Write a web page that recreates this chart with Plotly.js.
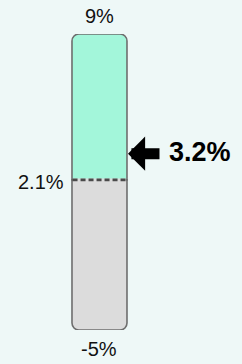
<!DOCTYPE html>
<html><head><meta charset="utf-8">
<script src="https://cdn.plot.ly/plotly-3.0.1.min.js"></script>
<style>html,body{margin:0;padding:0;background:#eef8f7;}</style>
</head><body>
<div id="chart" style="width:242px;height:364px;"></div>
<script>
const scaleMin = -5;
const scaleMax = 9;
const threshold = 2.1;
const currentValue = 3.2;
const labelMax = "9%";
const labelMin = "-5%";
const labelThreshold = "2.1%";
const labelValue = "3.2%";

// bars are drawn relative to the threshold so each one is rounded only at its outer end
const rel = v => v - threshold;
const outline = {color: '#6e6e6e', width: 1.6};
const traces = [
  {type: 'bar', x: [0], y: [rel(scaleMax)], width: [1],
   marker: {color: '#a3f6da', line: outline}, hoverinfo: 'skip'},
  {type: 'bar', x: [0], y: [rel(scaleMin)], width: [1],
   marker: {color: '#dcdcdc', line: outline}, hoverinfo: 'skip'}
];
const txt = {family: 'Liberation Sans, Arial, sans-serif', size: 20, color: '#111'};
const layout = {
  width: 242, height: 364,
  margin: {l: 0, r: 0, t: 34, b: 34},
  paper_bgcolor: '#eef8f7', plot_bgcolor: 'rgba(0,0,0,0)',
  barmode: 'relative', barcornerradius: 7, showlegend: false,
  xaxis: {range: [-1.809, 2.591], visible: false, fixedrange: true},
  yaxis: {range: [rel(scaleMin), rel(scaleMax)], visible: false, fixedrange: true},
  shapes: [
    {type: 'line', xref: 'x', yref: 'y', x0: -0.48, x1: 0.48, y0: rel(threshold), y1: rel(threshold),
     line: {color: '#dcdcdc', width: 3}, layer: 'above'},
    {type: 'line', xref: 'x', yref: 'y', x0: -0.49, x1: 0.49, y0: rel(threshold), y1: rel(threshold),
     line: {color: '#4a4a4a', width: 2.6, dash: '5px,3px'}, layer: 'above'}
  ],
  annotations: [
    {x: 0, y: rel(scaleMax), xref: 'x', yref: 'y', text: labelMax, showarrow: false,
     yanchor: 'bottom', yshift: 5, font: txt},
    {x: 0, y: rel(scaleMin), xref: 'x', yref: 'y', text: labelMin, showarrow: false,
     yanchor: 'top', yshift: -6, font: txt},
    {x: -0.5, y: rel(threshold), xref: 'x', yref: 'y', text: labelThreshold, showarrow: false,
     xanchor: 'right', xshift: -6, yshift: -2, font: txt},
    {x: 0.5, y: rel(currentValue), xref: 'x', yref: 'y', text: '', showarrow: true,
     ax: 34, ay: 0, arrowhead: 1, arrowwidth: 11, arrowsize: 0.52, arrowcolor: '#000',
     standoff: 1, yshift: 3},
    {x: 0.5, y: rel(currentValue), xref: 'x', yref: 'y', text: '<b>' + labelValue + '</b>', showarrow: false,
     xanchor: 'left', xshift: 40, yshift: 5,
     font: {family: 'Liberation Sans, Arial, sans-serif', size: 27, color: '#000'}}
  ]
};
Plotly.newPlot('chart', traces, layout, {displayModeBar: false, staticPlot: true});
</script>
</body></html>
